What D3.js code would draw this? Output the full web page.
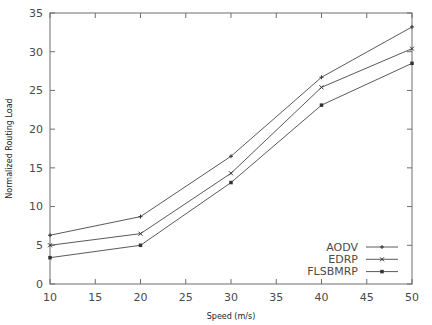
<!DOCTYPE html>
<html>
<head>
<meta charset="utf-8">
<script src="https://cdn.jsdelivr.net/npm/d3@7"></script>
<style>
  body { margin: 0; background: #fff; }
  svg { display: block; font-family: "DejaVu Sans", sans-serif; }
</style>
</head>
<body>
<svg id="chart"></svg>
<script>
// data
const speeds = [10, 20, 30, 40, 50];
const aodv = [6.3, 8.7, 16.5, 26.7, 33.2];
const edrp = [5.0, 6.5, 14.3, 25.4, 30.4];
const flsbmrp = [3.4, 5.0, 13.1, 23.1, 28.5];
const seriesNames = ['AODV', 'EDRP', 'FLSBMRP'];
const seriesValues = [aodv, edrp, flsbmrp];
const markerTypes = ['plus', 'cross', 'square'];
const xTicks = [10, 15, 20, 25, 30, 35, 40, 45, 50];
const yTicks = [0, 5, 10, 15, 20, 25, 30, 35];

const width = 432, height = 325;
const margin = {top: 13, right: 20, bottom: 41, left: 50};
const innerW = width - margin.left - margin.right;
const innerH = height - margin.top - margin.bottom;

const axisColor = '#6e6e6e';
const lineColor = '#5a5a5a';
const textColor = '#4a4a4a';

const svg = d3.select('#chart').attr('width', width).attr('height', height);
const chart = svg.append('g').attr('transform', `translate(${margin.left},${margin.top})`);

const x = d3.scaleLinear().domain([10, 50]).range([0, innerW]);
const y = d3.scaleLinear().domain([0, 35]).range([innerH, 0]);

// frame
chart.append('rect')
    .attr('width', innerW).attr('height', innerH)
    .attr('fill', 'none').attr('stroke', axisColor).attr('stroke-width', 1);

// inward ticks, mirrored on top and right
const tickLen = 5;
xTicks.forEach(t => {
  chart.append('line').attr('x1', x(t)).attr('x2', x(t)).attr('y1', innerH).attr('y2', innerH - tickLen)
      .attr('stroke', axisColor);
  chart.append('line').attr('x1', x(t)).attr('x2', x(t)).attr('y1', 0).attr('y2', tickLen)
      .attr('stroke', axisColor);
  chart.append('text').attr('x', x(t)).attr('y', innerH + 17)
      .attr('text-anchor', 'middle').attr('font-size', 11).attr('fill', textColor).text(t);
});
yTicks.forEach(t => {
  chart.append('line').attr('x1', 0).attr('x2', tickLen).attr('y1', y(t)).attr('y2', y(t))
      .attr('stroke', axisColor);
  chart.append('line').attr('x1', innerW).attr('x2', innerW - tickLen).attr('y1', y(t)).attr('y2', y(t))
      .attr('stroke', axisColor);
  chart.append('text').attr('x', -7).attr('y', y(t)).attr('dy', '0.35em')
      .attr('text-anchor', 'end').attr('font-size', 11).attr('fill', textColor).text(t);
});

// axis titles
svg.append('text').attr('x', margin.left + innerW / 2).attr('y', 319)
    .attr('text-anchor', 'middle').attr('font-size', 8).attr('fill', '#222').text('Speed (m/s)');
svg.append('text').attr('transform', `translate(12,${margin.top + innerH / 2}) rotate(-90)`)
    .attr('text-anchor', 'middle').attr('font-size', 8).attr('fill', '#222').text('Normalized Routing Load');

function drawMarker(g, type, cx, cy) {
  const s = 2;
  if (type === 'plus') {
    g.append('path').attr('d', `M${cx - s},${cy}H${cx + s}M${cx},${cy - s}V${cy + s}`)
        .attr('stroke', '#333').attr('stroke-width', 1);
  } else if (type === 'cross') {
    g.append('path').attr('d', `M${cx - s},${cy - s}L${cx + s},${cy + s}M${cx - s},${cy + s}L${cx + s},${cy - s}`)
        .attr('stroke', '#333').attr('stroke-width', 1);
  } else {
    g.append('rect').attr('x', cx - 1.75).attr('y', cy - 1.75).attr('width', 3.5).attr('height', 3.5)
        .attr('fill', '#333');
  }
}

const line = d3.line().x((d, i) => x(speeds[i])).y(d => y(d));

seriesValues.forEach((vals, k) => {
  chart.append('path').datum(vals).attr('d', line)
      .attr('fill', 'none').attr('stroke', lineColor).attr('stroke-width', 1);
  vals.forEach((v, i) => drawMarker(chart, markerTypes[k], x(speeds[i]), y(v)));
});

// legend
const legend = svg.append('g');
seriesNames.forEach((name, k) => {
  const ly = 247 + k * 12.3;
  legend.append('text').attr('x', 358).attr('y', ly).attr('dy', '0.35em')
      .attr('text-anchor', 'end').attr('font-size', 11).attr('fill', textColor).text(name);
  legend.append('line').attr('x1', 366).attr('x2', 398).attr('y1', ly).attr('y2', ly)
      .attr('stroke', lineColor).attr('stroke-width', 1);
  drawMarker(legend, markerTypes[k], 382, ly);
});
</script>
</body>
</html>
